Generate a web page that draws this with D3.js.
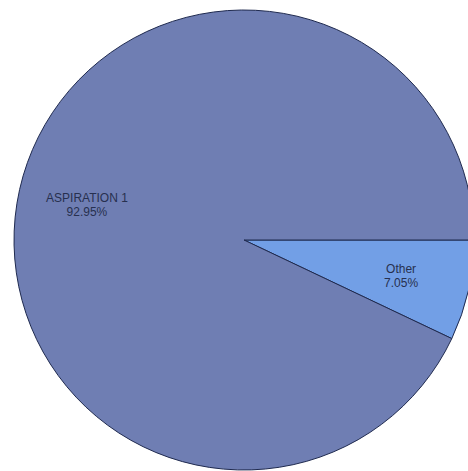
<!DOCTYPE html>
<html>
<head>
<meta charset="utf-8">
<script src="https://cdn.jsdelivr.net/npm/d3@7"></script>
<style>
  html, body { margin: 0; padding: 0; background: #ffffff; }
  svg { display: block; }
</style>
</head>
<body>
<svg id="chart" width="468" height="471"></svg>
<script>
// Slice categories and their shares (percent)
const categories = ["Other", "ASPIRATION 1"];
const values = [7.05, 92.95];
const labels = ["7.05%", "92.95%"];
const colors = ["#729fe6", "#6f7eb3"];

const width = 468, height = 471;
const cx = 244, cy = 240, radius = 230;

const svg = d3.select("#chart");
const g = svg.append("g").attr("transform", `translate(${cx},${cy})`);

// Start at 3 o'clock and run clockwise
const pie = d3.pie()
  .sort(null)
  .value(d => d.value)
  .startAngle(Math.PI / 2)
  .endAngle(Math.PI / 2 + 2 * Math.PI);

const data = categories.map((c, i) => ({ name: c, value: values[i], label: labels[i], color: colors[i] }));
const arcs = pie(data);

const arc = d3.arc().innerRadius(0).outerRadius(radius);
const labelArc = d3.arc().innerRadius(radius * 0.7).outerRadius(radius * 0.7);

g.selectAll("path.slice")
  .data(arcs)
  .join("path")
  .attr("class", "slice")
  .attr("d", arc)
  .attr("fill", d => d.data.color)
  .attr("stroke", "#1f2a4f")
  .attr("stroke-width", 1)
  .attr("stroke-linejoin", "round");

const text = g.selectAll("text.lbl")
  .data(arcs)
  .join("text")
  .attr("class", "lbl")
  .attr("transform", d => `translate(${labelArc.centroid(d)})`)
  .attr("text-anchor", "middle")
  .attr("font-family", "Liberation Sans, Arial, sans-serif")
  .attr("font-size", 12)
  .attr("fill", "#27304f");

text.append("tspan")
  .attr("x", 0)
  .attr("dy", "-0.2em")
  .text(d => d.data.name);

text.append("tspan")
  .attr("x", 0)
  .attr("dy", "1.15em")
  .text(d => d.data.label);
</script>
</body>
</html>
